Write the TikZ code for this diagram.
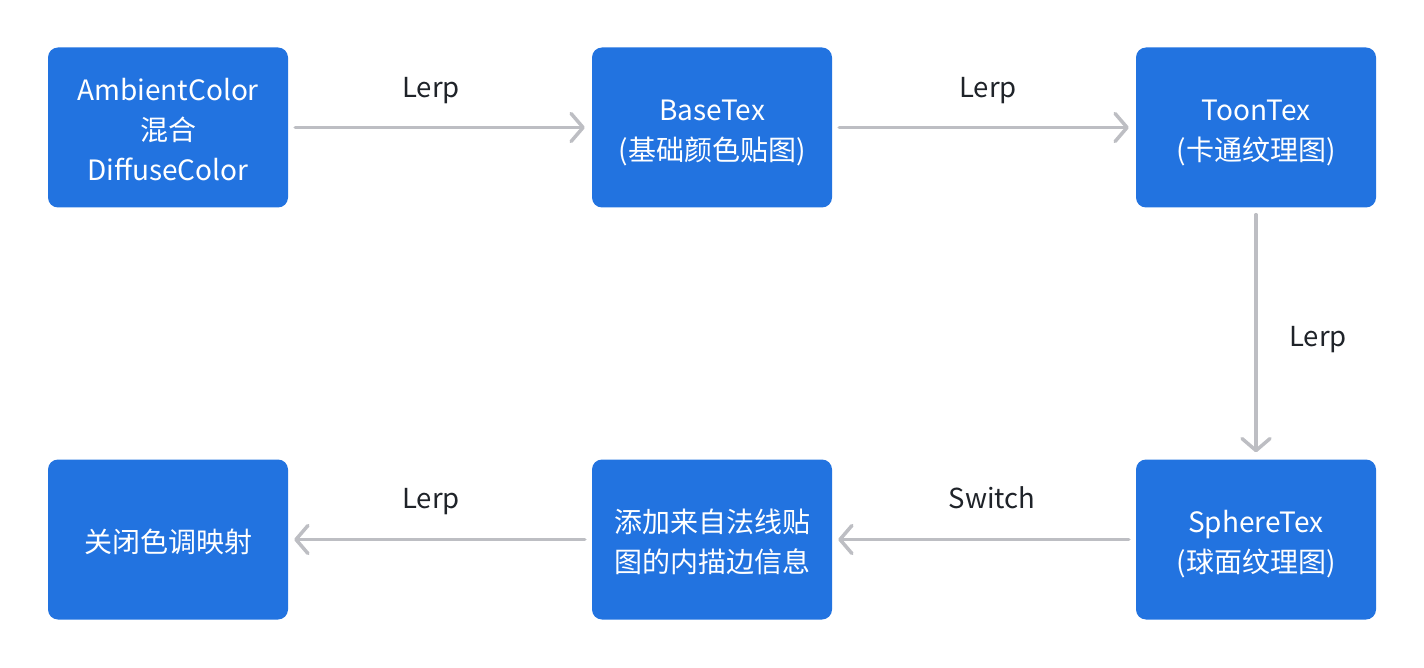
\documentclass[tikz,border=0pt]{standalone}
\usepackage{fontspec}
\setmainfont{Noto Sans CJK SC}
\usetikzlibrary{arrows.meta}
\definecolor{boxblue}{HTML}{2273E0}
\definecolor{arrowgray}{HTML}{BDBEC3}
\definecolor{labelc}{HTML}{1F2329}
\newcommand{\bxt}[1]{\raisebox{-5pt}[\height][\depth]{\begin{tabular}{@{}c@{}}#1\end{tabular}}}
\begin{document}
\begin{tikzpicture}[x=1pt,y=-1pt,
  stepbox/.style={fill=boxblue, rounded corners=10pt, minimum width=240pt, minimum height=160pt,
    inner sep=0pt, text=white, font=\fontsize{28}{40}\selectfont},
  conn/.style={draw=arrowgray, line width=3.5pt, line cap=round,
    -{Straight Barb[length=12pt, width=28pt, line width=3.5pt, round]}},
  lbl/.style={text=labelc, font=\fontsize{27.5}{32}\selectfont}]
\useasboundingbox (0,0) rectangle (1424,668);
\node[stepbox] (a) at (168,127.5) {\bxt{AmbientColor\\混合\\DiffuseColor}};
\node[stepbox] (b) at (712,127.5) {\bxt{BaseTex\\(基础颜色贴图)}};
\node[stepbox] (c) at (1256,127.5) {\bxt{ToonTex\\(卡通纹理图)}};
\node[stepbox] (d) at (1256,539.5) {\bxt{SphereTex\\(球面纹理图)}};
\node[stepbox] (e) at (712,539.5) {\bxt{添加来自法线贴\\图的内描边信息}};
\node[stepbox] (f) at (168,539.5) {\bxt{关闭色调映射}};
\draw[conn] ([xshift=7pt]a.east) -- ([xshift=-7pt]b.west);
\draw[conn] ([xshift=7pt]b.east) -- ([xshift=-7pt]c.west);
\draw[conn] ([yshift=-7pt]c.south) -- ([yshift=7pt]d.north);
\draw[conn] ([xshift=-7pt]d.west) -- ([xshift=6pt]e.east);
\draw[conn] ([xshift=-7pt]e.west) -- ([xshift=6pt]f.east);
\node[lbl] (l1) at (431,91) {Lerp};
\node[lbl] (l2) at (988,91) {Lerp};
\node[lbl] (l3) at (1318,340) {Lerp};
\node[lbl] (l4) at (992,498) {Switch};
\node[lbl] (l5) at (431,502) {Lerp};
\end{tikzpicture}
\end{document}
